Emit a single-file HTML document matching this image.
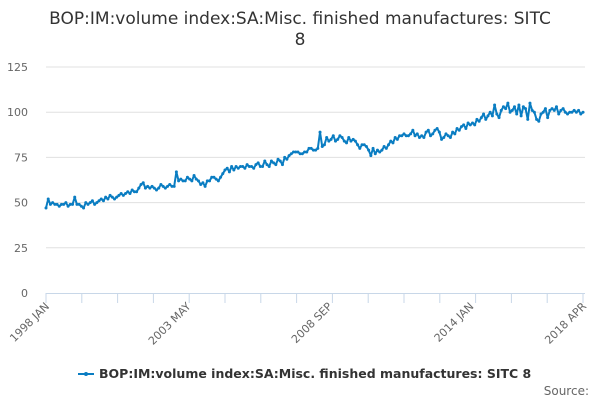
<!DOCTYPE html>
<html><head><meta charset="utf-8"><style>
body{margin:0;background:#fff;font-family:"Liberation Sans","DejaVu Sans",sans-serif}
svg text{font-family:"DejaVu Sans","Liberation Sans",sans-serif}
</style></head><body>
<svg id="chart" width="600" height="400" viewBox="0 0 600 400" xmlns="http://www.w3.org/2000/svg">
<text x="300" y="24" text-anchor="middle" font-size="17" fill="#333">BOP:IM:volume index:SA:Misc. finished manufactures: SITC</text>
<text x="300" y="45" text-anchor="middle" font-size="17" fill="#333">8</text>
<g id="grid"></g>
<g id="yaxis"></g>
<g id="xaxis"></g>
<g id="series"></g>
<g>
<line x1="78" y1="374" x2="94" y2="374" stroke="#0a7dc2" stroke-width="2"/>
<circle cx="86" cy="374" r="2" fill="#0a7dc2"/>
<text x="99" y="378" font-size="12.5" font-weight="bold" fill="#333">BOP:IM:volume index:SA:Misc. finished manufactures: SITC 8</text>
</g>
<text x="589" y="395" text-anchor="end" font-size="12" fill="#666">Source:</text>
</svg>
<script>
const yTicks=[0,25,50,75,100,125];
const xLabels=["1998 JAN","2003 MAY","2008 SEP","2014 JAN","2018 APR"];
const xLabelIdx=[0,64,128,192,243];
const values=[
47,52,49,50,49,49,48,49,49,50,48,49,
49,53,49,49,48,47,50,49,50,51,49,50,
51,52,51,53,52,54,53,52,53,54,55,54,
55,56,55,57,56,56,58,60,61,58,59,58,
59,58,57,58,60,59,58,59,60,59,59,67,
62,63,62,62,64,63,62,65,63,62,60,61,
59,62,62,64,64,63,62,64,66,68,69,67,
70,68,70,69,70,70,69,71,70,70,69,71,
72,70,70,73,71,70,73,72,71,74,73,71,
75,74,76,77,78,78,78,77,77,78,78,80,
80,79,79,80,89,81,82,86,84,85,87,84,
85,87,86,84,83,86,84,85,84,82,80,82,
82,81,79,76,80,77,79,78,79,81,80,82,
84,83,86,85,87,87,88,87,87,88,90,87,
88,86,87,86,89,90,87,88,90,91,89,85,
86,88,87,86,89,88,91,90,92,93,91,94,
93,94,93,96,95,97,99,96,98,100,98,104,
99,97,101,103,102,105,100,101,103,99,104,98,
103,102,96,105,101,100,96,95,99,100,102,97,
101,102,101,103,99,101,102,100,99,100,100,101,
100,101,99,100
];
const NS="http://www.w3.org/2000/svg";
const x0=46,x1=583,yTop=67,yBot=293,yMax=125;
const xS=i=>x0+(x1-x0)*i/(values.length-1);
const yS=v=>yBot-(yBot-yTop)*v/yMax;
function mk(tag,attrs,parent){const e=document.createElementNS(NS,tag);for(const k in attrs)e.setAttribute(k,attrs[k]);parent.appendChild(e);return e;}
const grid=document.getElementById('grid'),ya=document.getElementById('yaxis'),xa=document.getElementById('xaxis'),se=document.getElementById('series');
yTicks.forEach(t=>{
  const y=yS(t);
  if(t>0){const l=mk('line',{x1:x0,x2:x1+2,y1:y,y2:y,stroke:'#e0e0e0','stroke-width':1},grid);
  
  }
  const tx=mk('text',{x:28,y:y+4,'text-anchor':'end','font-size':11,fill:'#666'},ya);
  
  
  tx.textContent=t;
});
mk('line',{x1:x0,x2:x1+2,y1:yBot+0.5,y2:yBot+0.5,stroke:'#c8d7e8','stroke-width':1},xa);
for(let k=0;k<=15;k++){const x=x0+(x1-x0)*k/15;
  const tk=mk('line',{x1:x,x2:x,y1:yBot,y2:yBot+10,stroke:'#c8d7e8','stroke-width':1},xa);
  
  }
xLabels.forEach((s,i)=>{const x=xS(xLabelIdx[i]);
  const t=mk('text',{x:x+4,y:yBot+14,'text-anchor':'end','font-size':11,fill:'#666',transform:`rotate(-45 ${x+4} ${yBot+14})`},xa);
  
  
  t.textContent=s;});
const d=values.map((v,i)=>(i?'L':'M')+xS(i).toFixed(2)+' '+yS(v).toFixed(2)).join(' ');
const p=mk('path',{d:d,fill:'none',stroke:'#0a7dc2','stroke-width':2,'stroke-linejoin':'round'},se);


values.forEach((v,i)=>{const c=mk('circle',{cx:xS(i),cy:yS(v),r:1.5,fill:'#0a7dc2'},se);
  
  });
</script>
</body></html>
